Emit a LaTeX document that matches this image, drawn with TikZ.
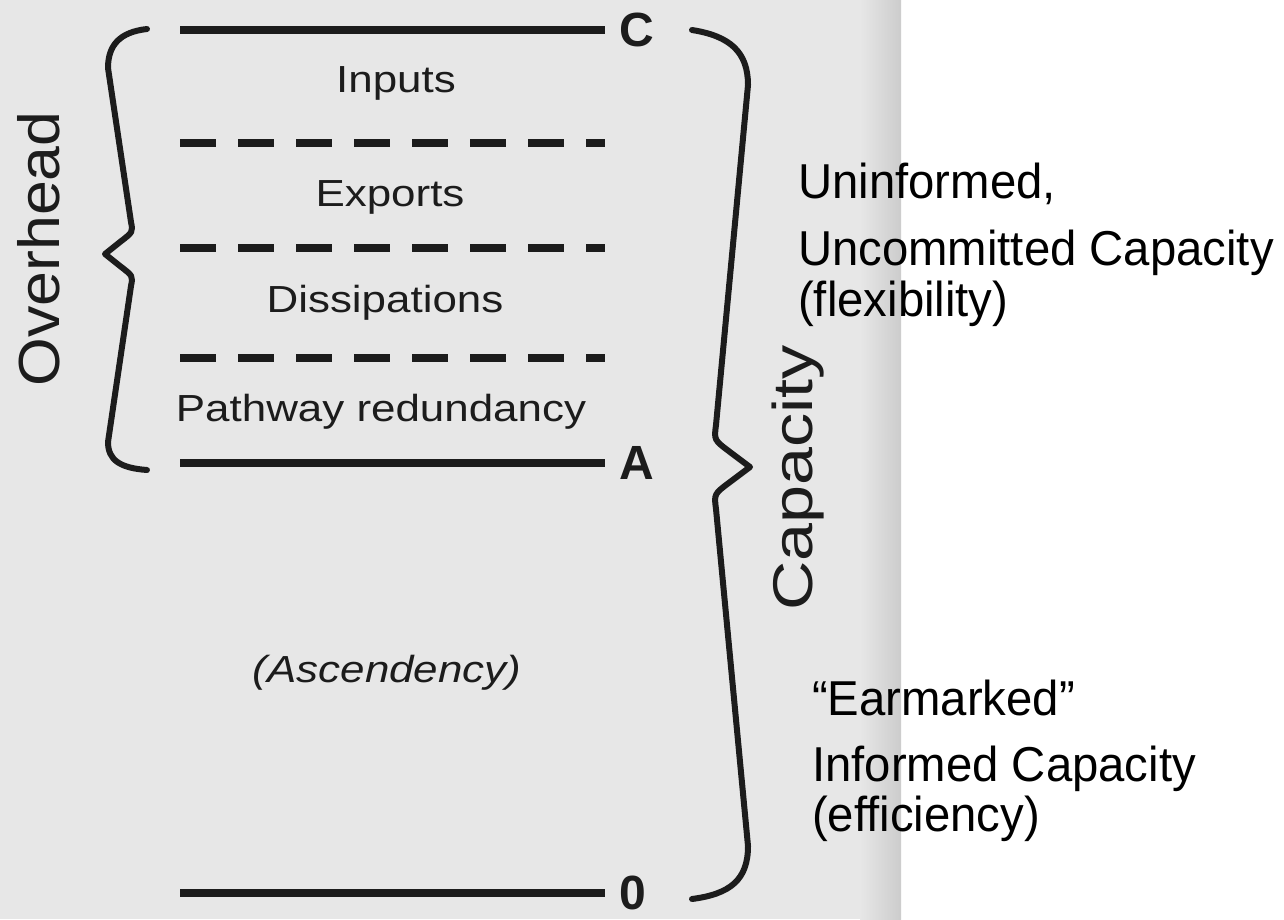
\documentclass[tikz,border=0pt]{standalone}
\usepackage{fontspec}
\setmainfont{Liberation Sans}
\newfontfamily\scanfont[FakeStretch=1.165]{Liberation Sans}
\newfontfamily\sidefont[FakeStretch=1.08]{Liberation Sans}
\newfontfamily\capfont[FakeStretch=1.22]{Liberation Sans}
\newfontfamily\notefont[FakeStretch=0.965]{Liberation Sans}

\definecolor{paper}{gray}{0.905}
\definecolor{gutter}{gray}{0.80}
\definecolor{ink}{gray}{0.11}

\begin{document}
\begin{tikzpicture}[x=1pt,y=-1pt,
  rule/.style={ink, line width=8pt},
  divider/.style={ink, line width=8pt, dash pattern=on 36pt off 22pt},
  bracepath/.style={ink, line width=6pt, line cap=round, line join=round},
  band/.style={font=\scanfont\fontsize{37.7}{40}\selectfont, text=ink, inner sep=0pt, anchor=base},
  level/.style={font=\bfseries\fontsize{48}{50}\selectfont, text=ink, inner xsep=14pt, inner ysep=0pt, anchor=west},
  sidelabel/.style={text=ink, rotate=90, anchor=base, inner sep=0pt},
  note/.style={font=\notefont\fontsize{49}{50}\selectfont, text=black, inner sep=0pt, anchor=base west},
]
\useasboundingbox (0,0) rectangle (1284,919);

% paper and page gutter
\fill[white] (0,0) rectangle (1284,919);
\fill[paper] (0,0) rectangle (861,919);
\shade[left color=paper, right color=gutter] (860,0) rectangle (901,919);

% levels C, A and 0 with their rules
\coordinate (c0) at (180,30);
\coordinate (a0) at (180,463);
\coordinate (z0) at (180,893);
\node[level] (C) at (605,30) {C};
\node[level] (A) at (605,463) {A};
\node[level] (Z) at (605,893) {0};
\draw[rule] (c0) -- (C.west);
\draw[rule] (a0) -- (A.west);
\draw[rule] (z0) -- (Z.west);

% dashed dividers inside the overhead band
\draw[divider] (180,143) -- (605,143);
\draw[divider] (180,248) -- (605,248);
\draw[divider] (180,358) -- (605,358);

% band labels
\node[band] (inputs) at (396,92) {Inputs};
\node[band] (exports) at (390,206) {Exports};
\node[band] (dissip) at (385,312) {Dissipations};
\node[band] (redund) at (381,421) {Pathway redundancy};
\node[band, font=\scanfont\itshape\fontsize{37.7}{40}\selectfont] (ascend) at (387,682) {(Ascendency)};

% left brace: overhead
\draw[bracepath] (147,29) .. controls (120,32) and (108,45) .. (108,68)
  -- (131,222) .. controls (133,232) .. (120,242) -- (105,254) -- (120,266)
  .. controls (133,276) .. (131,286) -- (108,442)
  .. controls (108,460) and (120,468) .. (147,470);
\node[sidelabel, font=\sidefont\fontsize{58}{60}\selectfont] (overhead) at (59,249) {Overhead};

% right brace: capacity
\draw[bracepath] (692,30) .. controls (730,36) and (748,52) .. (748,85)
  -- (716,425) .. controls (714,440) .. (730,452) -- (750,467) -- (730,482)
  .. controls (714,494) .. (716,509) -- (748,846)
  .. controls (748,880) and (730,894) .. (692,899);
\node[sidelabel, font=\capfont\fontsize{56}{60}\selectfont] (capacity) at (812,478) {Capacity};

% notes on the two parts of capacity
\node[note] (n1) at (798,198) {Uninformed,};
\node[note] (n2) at (798,265) {Uncommitted Capacity};
\node[note] (n3) at (798,316) {(flexibility)};
\node[note] (n4) at (812,715) {“Earmarked”};
\node[note] (n5) at (812,781) {Informed Capacity};
\node[note] (n6) at (812,831) {(efficiency)};
\end{tikzpicture}
\end{document}
